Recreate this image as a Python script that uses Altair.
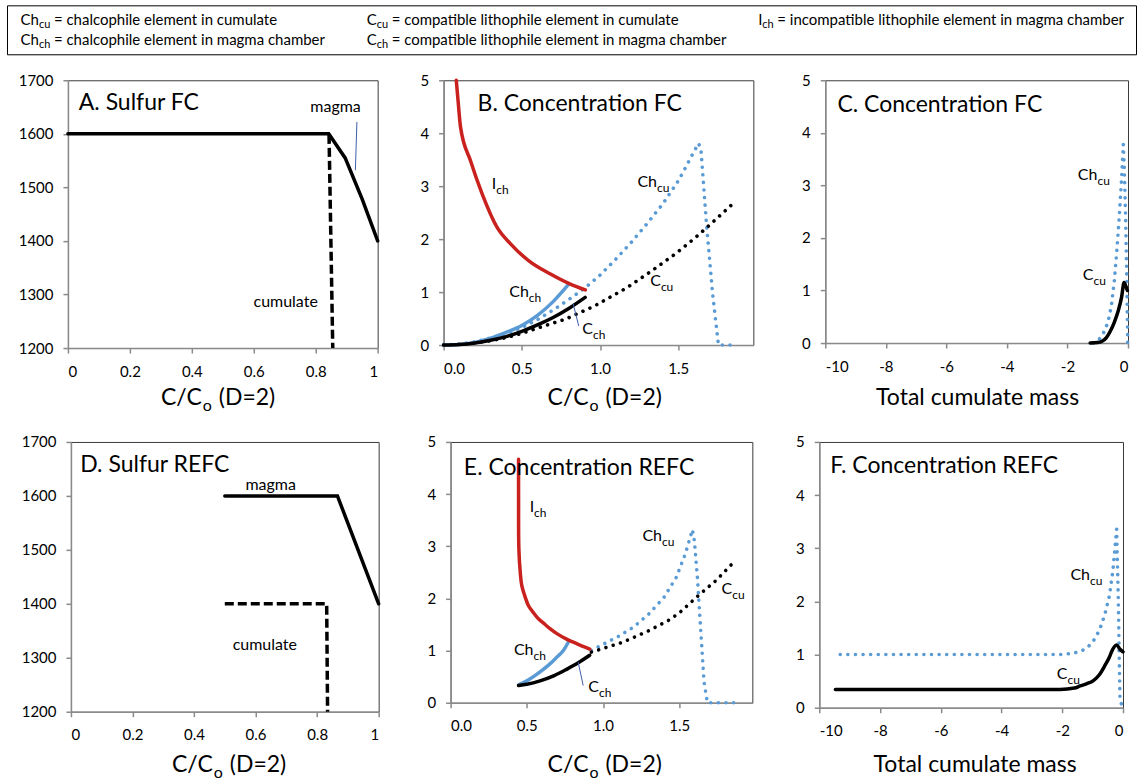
import altair as alt
import pandas as pd

FONT = "Lato"
RED = "#C9211E"
BLUE = "#5B9BD5"
LEADER = "#3E5BA9"
AXIS_GREY = "#8A8A8A"
FRAME = "#3A3A3A"

# ---------------- A. Sulfur FC ----------------
a_magma_x = [0.0, 0.842, 0.895, 0.95, 1.0]
a_magma_y = [1600, 1600, 1555, 1478, 1400]
a_cumulate_x = [0.843, 0.855]
a_cumulate_y = [1598, 1200]
a_leader_x = [0.933, 0.928]
a_leader_y = [1622, 1532]
a_word_text = ["magma", "cumulate"]
a_word_x = [0.864, 0.703]
a_word_y = [1651, 1286]

# ---------------- B. Concentration FC ----------------
b_ich_x = [0.081, 0.094, 0.108, 0.172, 0.247, 0.342, 0.428, 0.545, 0.683, 0.81, 0.906]
b_ich_y = [5.0, 4.56, 4.12, 3.48, 2.85, 2.22, 1.91, 1.59, 1.34, 1.15, 1.04]
b_chch_x = [0.0, 0.1, 0.2, 0.3, 0.4, 0.5, 0.6, 0.7, 0.8]
b_chch_y = [0.0, 0.01, 0.05, 0.13, 0.24, 0.37, 0.56, 0.82, 1.15]
b_cch_x = [0.0, 0.1, 0.2, 0.3, 0.4, 0.5, 0.6, 0.7, 0.8, 0.905]
b_cch_y = [0.0, 0.01, 0.04, 0.09, 0.16, 0.26, 0.38, 0.52, 0.69, 0.9]
b_chcu_x = [0.0, 0.1, 0.2, 0.3, 0.4, 0.5, 0.6, 0.7, 0.8, 0.9, 1.0, 1.1, 1.2, 1.3,
            1.4, 1.5, 1.55, 1.6, 1.63, 1.645, 1.68, 1.72, 1.757, 1.8, 1.853]
b_chcu_y = [0.0, 0.02, 0.06, 0.13, 0.22, 0.33, 0.48, 0.66, 0.86, 1.07, 1.32, 1.62, 1.94, 2.29,
            2.66, 3.1, 3.37, 3.65, 3.81, 3.7, 2.3, 0.96, 0.0, 0.0, 0.0]
b_ccu_x = [0.0, 0.1, 0.2, 0.3, 0.4, 0.5, 0.6, 0.78, 0.96, 1.17, 1.33, 1.49, 1.63, 1.75, 1.853]
b_ccu_y = [0.0, 0.01, 0.04, 0.08, 0.14, 0.22, 0.32, 0.49, 0.73, 1.08, 1.40, 1.74, 2.08, 2.40, 2.68]
b_leader_x = [0.828, 0.864]
b_leader_y = [0.78, 0.36]
b_lab_main = ["I", "Ch", "Ch", "C", "C"]
b_lab_sub = ["ch", "cu", "ch", "cu", "ch"]
b_lab_x = [0.336, 1.364, 0.545, 1.389, 0.955]
b_lab_y = [3.04, 3.07, 1.01, 1.20, 0.30]

# ---------------- C. Concentration FC vs cumulate mass ----------------
c_chcu_x = [-1.15, -0.92, -0.75, -0.62, -0.54, -0.45, -0.37, -0.29, -0.22, -0.155,
            -0.12, -0.08, -0.04, -0.01]
c_chcu_y = [0.0, 0.09, 0.25, 0.5, 0.75, 1.2, 1.75, 2.4, 3.05, 3.78, 3.3, 2.4, 1.2, 0.0]
c_ccu_x = [-1.25, -1.0, -0.87, -0.72, -0.59, -0.45, -0.32, -0.21, -0.13, -0.07, -0.02]
c_ccu_y = [0.0, 0.01, 0.03, 0.1, 0.22, 0.4, 0.62, 0.88, 1.15, 1.08, 1.0]
c_lab_main = ["Ch", "C"]
c_lab_sub = ["cu", "cu"]
c_lab_x = [-1.01, -1.14]
c_lab_y = [3.19, 1.29]

# ---------------- D. Sulfur REFC ----------------
d_magma_x = [0.5, 0.866, 1.0]
d_magma_y = [1600, 1600, 1400]
d_cumulate_x = [0.5, 0.831, 0.834]
d_cumulate_y = [1400, 1400, 1200]
d_word_text = ["magma", "cumulate"]
d_word_x = [0.649, 0.63]
d_word_y = [1620, 1323]

# ---------------- E. Concentration REFC ----------------
e_ich_x = [0.446, 0.446, 0.448, 0.457, 0.467, 0.49, 0.511, 0.545, 0.576, 0.62, 0.652,
           0.70, 0.761, 0.83, 0.913]
e_ich_y = [4.67, 3.9, 2.95, 2.5, 2.25, 2.02, 1.86, 1.72, 1.61, 1.5, 1.42, 1.32, 1.22, 1.13, 1.03]
e_chch_x = [0.446, 0.5, 0.587, 0.65, 0.696, 0.74, 0.772]
e_chch_y = [0.345, 0.42, 0.59, 0.74, 0.87, 1.0, 1.16]
e_cch_x = [0.446, 0.5, 0.587, 0.68, 0.761, 0.84, 0.913]
e_cch_y = [0.33, 0.355, 0.42, 0.52, 0.64, 0.77, 0.91]
e_chcu_x = [0.924, 1.0, 1.1, 1.2, 1.3, 1.4, 1.48, 1.54, 1.587, 1.60, 1.62, 1.642, 1.663,
            1.685, 1.75, 1.86]
e_chcu_y = [1.0, 1.12, 1.27, 1.45, 1.7, 2.02, 2.4, 2.85, 3.32, 3.1, 2.38, 1.36, 0.4,
            0.0, 0.0, 0.0]
e_ccu_x = [0.924, 1.13, 1.3, 1.43, 1.5, 1.62, 1.74, 1.86]
e_ccu_y = [0.97, 1.16, 1.38, 1.58, 1.72, 2.04, 2.34, 2.7]
e_leader_x = [0.837, 0.87]
e_leader_y = [0.78, 0.33]
e_lab_main = ["I", "Ch", "Ch", "C", "C"]
e_lab_sub = ["ch", "cu", "ch", "cu", "ch"]
e_lab_x = [0.548, 1.387, 0.544, 1.848, 0.974]
e_lab_y = [3.75, 3.2, 1.02, 2.18, 0.30]

# ---------------- F. Concentration REFC vs cumulate mass ----------------
f_chcu_x = [-9.31, -2.1, -1.7, -1.45, -1.25, -1.05, -0.9, -0.75, -0.6, -0.45, -0.33,
            -0.21, -0.155, -0.12, -0.1, -0.02]
f_chcu_y = [1.0, 1.0, 1.02, 1.05, 1.1, 1.2, 1.32, 1.5, 1.75, 2.1, 2.6, 3.36, 2.05,
            0.79, 0.17, 0.0]
f_ccu_x = [-9.47, -2.07, -1.6, -1.41, -1.2, -0.975, -0.78, -0.59, -0.45, -0.38, -0.21,
           -0.1, 0.0]
f_ccu_y = [0.345, 0.345, 0.37, 0.41, 0.45, 0.51, 0.62, 0.8, 0.95, 1.05, 1.18, 1.1, 1.05]
f_lab_main = ["Ch", "C"]
f_lab_sub = ["cu", "cu"]
f_lab_x = [-1.086, -1.83]
f_lab_y = [2.49, 0.64]

# ---------------- panel titles ----------------
titles = {
    "A": ("A. Sulfur FC", 0.035, 1658),
    "B": ("B. Concentration FC", 0.217, 4.56),
    "C": ("C. Concentration FC", -9.6, 4.52),
    "D": ("D. Sulfur REFC", 0.03, 1657),
    "E": ("E. Concentration REFC", 0.087, 4.51),
    "F": ("F. Concentration REFC", -9.64, 4.55),
}

# ---------------- key box ----------------
key_main = ["Ch", "Ch", "C", "C", "I"]
key_sub = ["cu", "ch", "cu", "ch", "ch"]
key_desc = [
    "= chalcophile element in cumulate",
    "= chalcophile element in magma chamber",
    "= compatible lithophile element in cumulate",
    "= compatible lithophile element in magma chamber",
    "= incompatible lithophile element in magma chamber",
]
key_col = [0, 0, 1, 1, 2]
key_row = [0, 1, 0, 1, 0]

# line styles
SOLID = dict(strokeWidth=3.5, strokeCap="round")
DOTTED = dict(strokeWidth=3.6, strokeCap="round", strokeDash=[0.01, 7.6])
DASHED = dict(strokeWidth=3.5, strokeCap="butt", strokeDash=[9, 4])
THIN = dict(strokeWidth=1)

ONE = pd.DataFrame({"k": [0]})


def series_df(xs, ys):
    return pd.DataFrame({"x": xs, "y": ys, "i": list(range(len(xs)))})


def cco_title(cx, ty):
    j = cx - 14
    return [
        alt.Chart(ONE).mark_text(text="C/C", align="right", baseline="middle", fontSize=23)
        .encode(x=alt.value(j), y=alt.value(ty)),
        alt.Chart(ONE).mark_text(text="o", align="left", baseline="middle", fontSize=16)
        .encode(x=alt.value(j + 1), y=alt.value(ty + 8)),
        alt.Chart(ONE).mark_text(text="(D=2)", align="left", baseline="middle", fontSize=23)
        .encode(x=alt.value(j + 17), y=alt.value(ty)),
    ]


def mass_title(cx, ty):
    return [
        alt.Chart(ONE).mark_text(text="Total cumulate mass", align="center",
                                 baseline="middle", fontSize=23)
        .encode(x=alt.value(cx), y=alt.value(ty))
    ]


def panel(key, width, height, xdom, xticks, xlab, ydom, yticks, ylab, lines,
          labels=None, words=None, xtitle="cco", xshift=0, ty=318):
    X = alt.X("x:Q", scale=alt.Scale(domain=xdom, nice=False, zero=False),
              axis=alt.Axis(values=xticks, title=None, **xlab))
    Y = alt.Y("y:Q", scale=alt.Scale(domain=ydom, nice=False, zero=False),
              axis=alt.Axis(values=yticks, title=None, **ylab))
    layers = []
    for xs, ys, color, style, interp in lines:
        layers.append(
            alt.Chart(series_df(xs, ys))
            .mark_line(color=color, interpolate=interp, **style)
            .encode(x=X, y=Y, order="i:Q")
        )
    if labels is not None:
        main, sub, lx, ly = labels
        ldf = pd.DataFrame({"main": main, "sub": sub, "x": lx, "y": ly})
        layers.append(alt.Chart(ldf).mark_text(align="right", baseline="middle", fontSize=16)
                      .encode(x=X, y=Y, text="main:N"))
        layers.append(alt.Chart(ldf).mark_text(align="left", baseline="middle", fontSize=12, dy=6)
                      .encode(x=X, y=Y, text="sub:N"))
    if words is not None:
        wt, wx, wy = words
        wdf = pd.DataFrame({"t": wt, "x": wx, "y": wy})
        layers.append(alt.Chart(wdf).mark_text(align="center", baseline="middle", fontSize=16)
                      .encode(x=X, y=Y, text="t:N"))
    tt, tx, tyv = titles[key]
    tdf = pd.DataFrame({"t": [tt], "x": [tx], "y": [tyv]})
    layers.append(alt.Chart(tdf).mark_text(align="left", baseline="middle", fontSize=23)
                  .encode(x=X, y=Y, text="t:N"))
    cx = width / 2 + xshift
    layers += cco_title(cx, ty) if xtitle == "cco" else mass_title(cx, ty)
    return alt.layer(*layers).properties(width=width, height=height)


def spacer(w, h=1):
    return (
        alt.Chart(ONE).mark_point(opacity=0, size=1)
        .encode(x=alt.value(0), y=alt.value(0))
        .properties(width=w, height=h, view=alt.ViewBackground(stroke="transparent"))
    )


SULF_X = [0, 0.2, 0.4, 0.6, 0.8, 1]
SULF_Y = [1200, 1300, 1400, 1500, 1600, 1700]
CONC_X = [0, 0.5, 1.0, 1.5]
CONC_Y = [0, 1, 2, 3, 4, 5]
MASS_X = [-10, -8, -6, -4, -2, 0]

PLAIN = dict(format="~g")
INT = dict(format="d")
ONE_DEC = dict(format=".1f")
HYPHEN = dict(labelExpr="'' + datum.value")   # plain hyphen-minus for negatives

pA = panel("A", 310, 268, [0, 1], SULF_X, PLAIN, [1200, 1700], SULF_Y, INT,
           [(a_magma_x, a_magma_y, "black", SOLID, "linear"),
            (a_cumulate_x, a_cumulate_y, "black", DASHED, "linear"),
            (a_leader_x, a_leader_y, LEADER, THIN, "linear")],
           words=(a_word_text, a_word_x, a_word_y), xshift=-7, ty=318)

pB = panel("B", 310, 265, [0, 1.98], CONC_X, ONE_DEC, [0, 5], CONC_Y, INT,
           [(b_chcu_x, b_chcu_y, BLUE, DOTTED, "linear"),
            (b_ccu_x, b_ccu_y, "black", DOTTED, "linear"),
            (b_chch_x, b_chch_y, BLUE, SOLID, "monotone"),
            (b_cch_x, b_cch_y, "black", SOLID, "monotone"),
            (b_ich_x, b_ich_y, RED, SOLID, "monotone"),
            (b_leader_x, b_leader_y, LEADER, THIN, "linear")],
           labels=(b_lab_main, b_lab_sub, b_lab_x, b_lab_y), xshift=4, ty=318)

pC = panel("C", 303, 263, [-10, 0], MASS_X, HYPHEN, [0, 5], CONC_Y, INT,
           [(c_chcu_x, c_chcu_y, BLUE, DOTTED, "linear"),
            (c_ccu_x, c_ccu_y, "black", SOLID, "monotone")],
           labels=(c_lab_main, c_lab_sub, c_lab_x, c_lab_y), xtitle="mass", xshift=1, ty=318)

pD = panel("D", 308, 270, [0, 1], SULF_X, PLAIN, [1200, 1700], SULF_Y, INT,
           [(d_magma_x, d_magma_y, "black", SOLID, "linear"),
            (d_cumulate_x, d_cumulate_y, "black", DASHED, "linear")],
           words=(d_word_text, d_word_x, d_word_y), xshift=2, ty=323)

pE = panel("E", 302, 261, [0, 1.98], CONC_X, ONE_DEC, [0, 5], CONC_Y, INT,
           [(e_chcu_x, e_chcu_y, BLUE, DOTTED, "linear"),
            (e_ccu_x, e_ccu_y, "black", DOTTED, "linear"),
            (e_chch_x, e_chch_y, BLUE, SOLID, "monotone"),
            (e_cch_x, e_cch_y, "black", SOLID, "monotone"),
            (e_ich_x, e_ich_y, RED, SOLID, "catmull-rom"),
            (e_leader_x, e_leader_y, LEADER, THIN, "linear")],
           labels=(e_lab_main, e_lab_sub, e_lab_x, e_lab_y), xshift=1, ty=323)

pF = panel("F", 304, 266, [-10, 0], MASS_X, HYPHEN, [0, 5], CONC_Y, INT,
           [(f_chcu_x, f_chcu_y, BLUE, DOTTED, "linear"),
            (f_ccu_x, f_ccu_y, "black", SOLID, "monotone")],
           labels=(f_lab_main, f_lab_sub, f_lab_x, f_lab_y), xtitle="mass", xshift=4, ty=323)

# key box across the top
kdf = pd.DataFrame({"main": key_main, "sub": key_sub, "desc": key_desc,
                    "col": key_col, "row": key_row})
KX = alt.X("col:Q", scale=alt.Scale(domain=[0, 1, 2], range=[32, 370, 756]), axis=None)
KY = alt.Y("row:Q", scale=alt.Scale(domain=[0, 1], range=[15, 35]), axis=None)
kbase = alt.Chart(kdf).encode(x=KX, y=KY)
key_box = alt.layer(
    kbase.mark_text(align="right", baseline="middle", fontSize=15).encode(text="main:N"),
    kbase.mark_text(align="left", baseline="middle", fontSize=11, dy=5).encode(text="sub:N"),
    kbase.mark_text(align="left", baseline="middle", fontSize=15, dx=15).encode(text="desc:N"),
).properties(width=1130, height=49, view=alt.ViewBackground(stroke="black", strokeWidth=1))

row1 = alt.hconcat(spacer(61, 336), pA, spacer(66), pB, spacer(72), pC,
                   spacing=0, bounds="flush")
row2 = alt.hconcat(spacer(64), pD, spacer(72), pE, spacer(67), pF,
                   spacing=0, bounds="flush")

chart = (
    alt.vconcat(key_box, row1, row2, spacing=17)
    .properties(padding={"left": 6, "top": 4, "right": 0, "bottom": 0})
    .configure(font=FONT)
    .configure_view(stroke=FRAME, strokeWidth=1)
    .configure_axis(grid=False, labelFontSize=15, labelColor="black", labelFont=FONT,
                    tickColor=AXIS_GREY, tickSize=5, tickWidth=1.5,
                    domainColor=AXIS_GREY, domainWidth=1.5)
    .configure_axisX(labelPadding=11)
    .configure_axisY(labelPadding=10)
    .configure_text(color="black", font=FONT)
)

chart.save("out.html", embed_options={"renderer": "svg", "actions": False})
